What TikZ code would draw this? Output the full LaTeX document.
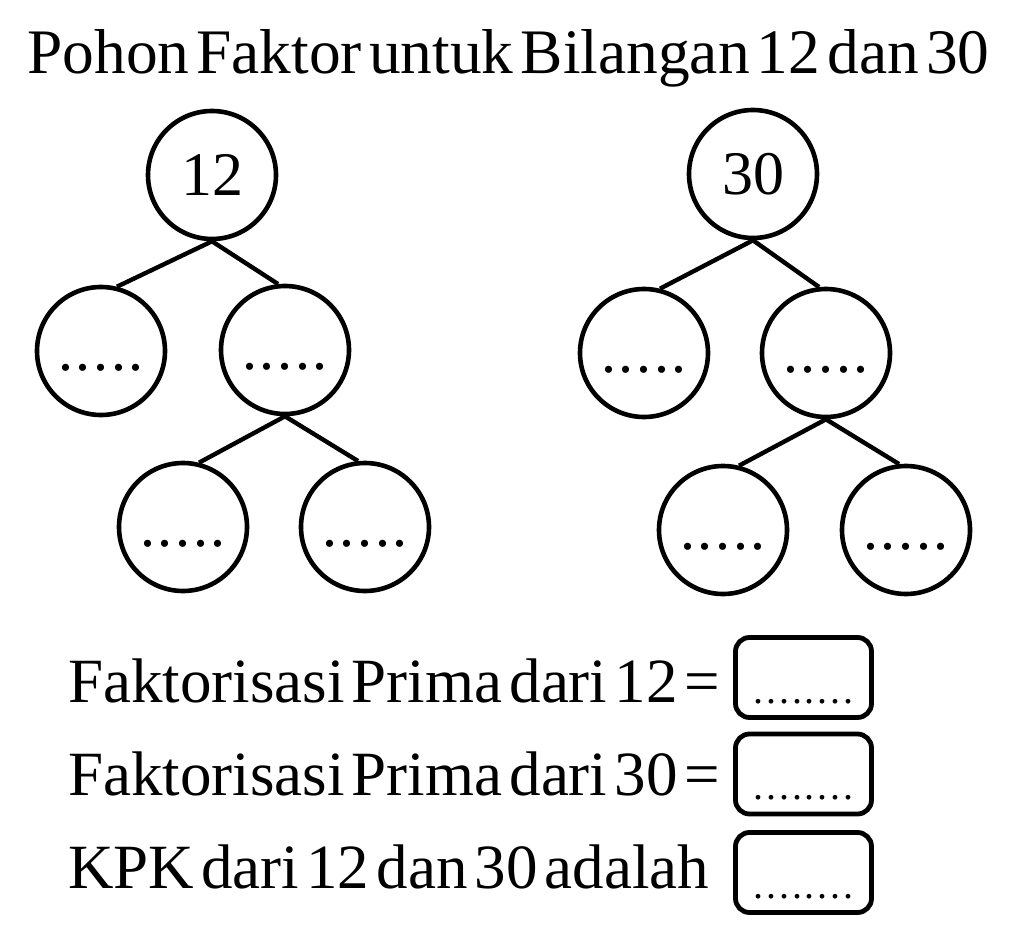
\documentclass[tikz,border=0pt]{standalone}
\usepackage{fontspec}
\setmainfont{Liberation Serif}[WordSpace=0.45]
\tikzset{
  faktor/.style={circle,draw,line width=2.3pt,minimum size=64pt,inner sep=0pt,font=\fontsize{31}{31}\selectfont},
  kosong/.style={faktor,text height=19pt,text depth=0pt,font=\fontsize{30}{30}\selectfont},
  cabang/.style={line width=2.2pt},
  isian/.style={draw,rounded corners=7pt,line width=2.4pt,minimum width=68pt,minimum height=40pt,inner sep=0pt,text height=25.5pt,text depth=0pt,font=\fontsize{20}{20}\selectfont},
  baris/.style={anchor=base west,inner sep=0pt,font=\fontsize{31.5}{38}\selectfont}
}
\newcommand{\titik}[2]{.\foreach \k in {2,...,#1}{\hspace{#2}.}}
\begin{document}
\begin{tikzpicture}[x=0.5pt,y=-0.5pt]
  \useasboundingbox (0,0) rectangle (1017,941);
  \node[baris,font=\fontsize{31.7}{38}\selectfont] (judul) at (27,74) {Pohon Faktor untuk Bilangan 12 dan 30};
  % pohon 12
  \node[faktor] (t12) at (212,175) {12};
  \node[kosong] (a1) at (101,351) {\titik{5}{1.25pt}};
  \node[kosong] (b1) at (285,350) {\titik{5}{1.25pt}};
  \node[kosong] (c1) at (183,527) {\titik{5}{1.25pt}};
  \node[kosong] (d1) at (365,527) {\titik{5}{1.25pt}};
  \draw[cabang] (t12.south) -- (a1.76);
  \draw[cabang] (t12.south) -- (b1.96);
  \draw[cabang] (b1.south) -- (c1.76);
  \draw[cabang] (b1.south) -- (d1.96);
  % pohon 30
  \node[faktor] (t30) at (753,174) {30};
  \node[kosong] (a2) at (644,353) {\titik{5}{1.25pt}};
  \node[kosong] (b2) at (826,353) {\titik{5}{1.25pt}};
  \node[kosong] (c2) at (723,530) {\titik{5}{1.25pt}};
  \node[kosong] (d2) at (906,530) {\titik{5}{1.25pt}};
  \draw[cabang] (t30.south) -- (a2.76);
  \draw[cabang] (t30.south) -- (b2.96);
  \draw[cabang] (b2.south) -- (c2.76);
  \draw[cabang] (b2.south) -- (d2.96);
  % isian
  \node[baris] (f12) at (68,702) {Faktorisasi Prima dari 12 =};
  \node[baris] (f30) at (68,795) {Faktorisasi Prima dari 30 =};
  \node[baris] (kpk) at (68,888) {KPK dari 12 dan 30 adalah};
  \node[isian] (k1) at (803.5,677.5) {\titik{8}{1.4pt}};
  \node[isian] (k2) at (803.5,774) {\titik{8}{1.4pt}};
  \node[isian] (k3) at (803.5,872.5) {\titik{8}{1.4pt}};
\end{tikzpicture}
\end{document}
